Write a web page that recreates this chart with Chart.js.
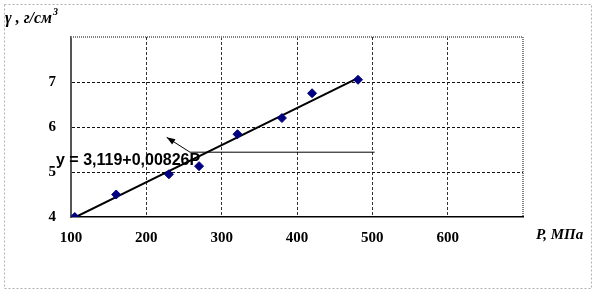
<!DOCTYPE html>
<html>
<head>
<meta charset="utf-8">
<script src="https://cdn.jsdelivr.net/npm/chart.js@4/dist/chart.umd.min.js"></script>
<style>
  html, body { margin: 0; padding: 0; background: #fff; }
  #wrap { position: relative; width: 600px; height: 296px; }
</style>
</head>
<body>
<div id="wrap"><canvas id="myChart" width="600" height="296"></canvas></div>
<script>
// data
const pressure = [105, 160, 230, 270, 321, 380, 420, 481];
const density  = [4.0, 4.5, 4.95, 5.13, 5.84, 6.2, 6.75, 7.05];
// trend line ends (y = 3,119 + 0,00826P)
const trendP = [105, 480];
const trendY = [3.99, 7.08];
const xTicks = [100, 200, 300, 400, 500, 600];
const yTicks = [4, 5, 6, 7];

const serif = '"Times New Roman", "Liberation Serif", serif';

// frame, titles and the equation callout
const decor = {
  id: 'decor',
  afterDraw(chart) {
    const ctx = chart.ctx;
    const a = chart.chartArea;
    const xs = chart.scales.x, ys = chart.scales.y;
    ctx.save();

    // outer dotted border
    ctx.strokeStyle = '#b0b0b0';
    ctx.lineWidth = 1;
    ctx.setLineDash([2, 2]);
    ctx.strokeRect(4.5, 4.5, 587, 284);

    // top / right border of plot area
    ctx.strokeStyle = '#808080';
    ctx.lineWidth = 2;
    ctx.setLineDash([1, 1]);
    ctx.beginPath();
    ctx.moveTo(a.left, a.top);
    ctx.lineTo(a.right, a.top);
    ctx.lineTo(a.right, a.bottom);
    ctx.stroke();
    ctx.setLineDash([]);

    // callout line + arrow
    const x0 = xs.getPixelForValue(258), y0 = ys.getPixelForValue(5.44);
    const x1 = xs.getPixelForValue(503);
    const xt = xs.getPixelForValue(227), yt = ys.getPixelForValue(5.77);
    ctx.strokeStyle = '#000';
    ctx.lineWidth = 1;
    ctx.beginPath();
    ctx.moveTo(x1, y0);
    ctx.lineTo(x0, y0);
    ctx.lineTo(xt, yt);
    ctx.stroke();
    const ang = Math.atan2(yt - y0, xt - x0);
    ctx.fillStyle = '#000';
    ctx.beginPath();
    ctx.moveTo(xt, yt);
    ctx.lineTo(xt - 9 * Math.cos(ang - 0.35), yt - 9 * Math.sin(ang - 0.35));
    ctx.lineTo(xt - 9 * Math.cos(ang + 0.35), yt - 9 * Math.sin(ang + 0.35));
    ctx.closePath();
    ctx.fill();

    // equation
    ctx.font = 'bold 16px Arial, "Liberation Sans", sans-serif';
    ctx.textBaseline = 'middle';
    ctx.textAlign = 'left';
    ctx.fillText('y = 3,119+0,00826P', 56, 161);

    // axis titles
    ctx.font = 'italic bold 16px ' + serif;
    ctx.textBaseline = 'alphabetic';
    const t = 'γ , г/см';
    ctx.fillText(t, 5, 23);
    const w = ctx.measureText(t).width;
    ctx.font = 'italic bold 10px ' + serif;
    ctx.fillText('3', 5 + w + 1, 15);
    ctx.font = 'italic bold 15px ' + serif;
    ctx.fillText('P, МПа', 536, 239);
    ctx.restore();
  }
};

const ctx = document.getElementById('myChart').getContext('2d');
const myChart = new Chart(ctx, {
  type: 'scatter',
  data: {
    datasets: [
      {
        data: pressure.map((p, i) => ({ x: p, y: density[i] })),
        pointStyle: 'rectRot',
        pointRadius: 4.5,
        backgroundColor: '#000080',
        borderColor: '#000080',
        borderWidth: 1,
        order: 1
      },
      {
        type: 'line',
        data: trendP.map((p, i) => ({ x: p, y: trendY[i] })),
        borderColor: '#000',
        borderWidth: 2,
        pointRadius: 0,
        fill: false,
        order: 2
      }
    ]
  },
  options: {
    responsive: false,
    animation: false,
    events: [],
    layout: { padding: { left: 0, top: 37, right: 77, bottom: 0 } },
    plugins: { legend: { display: false }, tooltip: { enabled: false } },
    scales: {
      x: {
        type: 'linear',
        min: 100, max: 700,
        afterFit: s => { s.height = 79; },
        afterBuildTicks: s => { s.ticks = xTicks.concat([700]).map(v => ({ value: v })); },
        ticks: {
          padding: 12,
          color: '#000',
          font: { family: serif, size: 15, weight: 'bold' },
          callback: v => (v === 700 ? '' : v)
        },
        grid: {
          drawTicks: false,
          color: c => (c.tick && (c.tick.value === 100 || c.tick.value === 700) ? 'rgba(0,0,0,0)' : '#333'),
          lineWidth: 1
        },
        border: { display: true, color: '#000', width: 1.5, dash: [3, 2] }
      },
      y: {
        min: 4, max: 8,
        afterFit: s => { s.width = 71; },
        afterBuildTicks: s => { s.ticks = yTicks.concat([8]).map(v => ({ value: v })); },
        ticks: {
          padding: 15,
          color: '#000',
          font: { family: serif, size: 15, weight: 'bold' },
          callback: v => (v === 8 ? '' : v)
        },
        grid: {
          drawTicks: false,
          color: c => (c.tick && (c.tick.value === 4 || c.tick.value === 8) ? 'rgba(0,0,0,0)' : '#111'),
          lineWidth: 1
        },
        border: { display: true, color: '#555', width: 2, dash: [3, 2] }
      }
    }
  },
  plugins: [decor]
});
</script>
</body>
</html>
